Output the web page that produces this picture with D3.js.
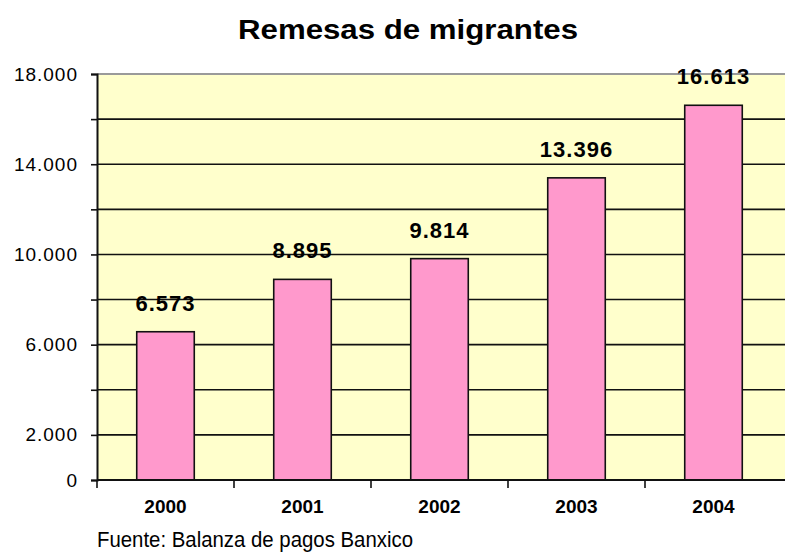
<!DOCTYPE html>
<html>
<head>
<meta charset="utf-8">
<script src="https://cdn.jsdelivr.net/npm/d3@7"></script>
<style>
  body { margin: 0; background: #fff; }
  text { font-family: "Liberation Sans", Arial, sans-serif; fill: #000; }
</style>
</head>
<body>
<svg id="chart" width="785" height="553"></svg>
<script>
// data
var years = ["2000", "2001", "2002", "2003", "2004"];
var remesas = [6573, 8895, 9814, 13396, 16613];
var yLabels = [0, 2000, 6000, 10000, 14000, 18000];
var yGrid = [2000, 4000, 6000, 8000, 10000, 12000, 14000, 16000];

var margin = {top: 74, left: 97, bottom: 480, right: 782};
var svg = d3.select("#chart");

var x = d3.scaleBand()
    .domain(years)
    .range([margin.left, margin.right]);

var y = d3.scaleLinear()
    .domain([0, 18000])
    .range([margin.bottom, margin.top]);

var fmt = function (v) {
    return d3.format(",")(v).replace(/,/g, ".");
};

// plot background
svg.append("rect")
    .attr("x", margin.left)
    .attr("y", y(18000))
    .attr("width", 785 - margin.left)
    .attr("height", y(0) - y(18000))
    .attr("fill", "#ffffcc");

// top border
svg.append("line")
    .attr("x1", margin.left).attr("x2", 785)
    .attr("y1", y(18000)).attr("y2", y(18000))
    .attr("stroke", "#9a9a9a").attr("stroke-width", 2);

// grid
svg.selectAll("line.grid")
    .data(yGrid)
    .enter().append("line")
    .attr("class", "grid")
    .attr("x1", margin.left).attr("x2", 785)
    .attr("y1", function (d) { return y(d); })
    .attr("y2", function (d) { return y(d); })
    .attr("stroke", "#111").attr("stroke-width", 1.6);

// bars
var barW = x.bandwidth() * 0.42;
svg.selectAll("rect.bar")
    .data(remesas)
    .enter().append("rect")
    .attr("class", "bar")
    .attr("x", function (d, i) { return x(years[i]) + (x.bandwidth() - barW) / 2; })
    .attr("y", function (d) { return y(d); })
    .attr("width", barW)
    .attr("height", function (d) { return y(0) - y(d); })
    .attr("fill", "#ff99cc")
    .attr("stroke", "#111")
    .attr("stroke-width", 1.6);

// value labels
svg.selectAll("text.val")
    .data(remesas)
    .enter().append("text")
    .attr("class", "val")
    .attr("x", function (d, i) { return x(years[i]) + x.bandwidth() / 2; })
    .attr("y", function (d) { return y(d) - 21; })
    .attr("text-anchor", "middle")
    .style("font-size", "22px")
    .style("font-weight", "bold")
    .style("letter-spacing", "1px")
    .text(fmt);

// y axis
var yAxis = d3.axisLeft(y)
    .tickValues(d3.range(0, 18001, 2000))
    .tickSize(6)
    .tickFormat(function (d) { return yLabels.indexOf(d) >= 0 ? fmt(d) : ""; });

var gy = svg.append("g")
    .attr("transform", "translate(" + margin.left + ",0)")
    .call(yAxis);
gy.select(".domain").attr("stroke", "#111").attr("stroke-width", 2);
gy.selectAll(".tick line").attr("stroke", "#111").attr("stroke-width", 1.6);
gy.selectAll(".tick text")
    .attr("x", -19)
    .style("font-size", "19px")
    .style("letter-spacing", "1px")
    .style("font-family", "Liberation Sans, Arial, sans-serif")
    .attr("fill", "#000");

// x axis
svg.append("line")
    .attr("x1", margin.left).attr("x2", 785)
    .attr("y1", y(0)).attr("y2", y(0))
    .attr("stroke", "#111").attr("stroke-width", 2);

svg.selectAll("line.xtick")
    .data(years)
    .enter().append("line")
    .attr("class", "xtick")
    .attr("x1", function (d) { return x(d); })
    .attr("x2", function (d) { return x(d); })
    .attr("y1", y(0)).attr("y2", y(0) + 8)
    .attr("stroke", "#111").attr("stroke-width", 1.6);

svg.selectAll("text.xlab")
    .data(years)
    .enter().append("text")
    .attr("class", "xlab")
    .attr("x", function (d) { return x(d) + x.bandwidth() / 2; })
    .attr("y", 513)
    .attr("text-anchor", "middle")
    .style("font-size", "19px")
    .style("font-weight", "bold")
    .text(function (d) { return d; });

// title
svg.append("text")
    .attr("x", 408)
    .attr("y", 39)
    .attr("text-anchor", "middle")
    .attr("textLength", 340)
    .attr("lengthAdjust", "spacingAndGlyphs")
    .style("font-size", "27px")
    .style("font-weight", "bold")
    .text("Remesas de migrantes");

// source
svg.append("text")
    .attr("x", 97)
    .attr("y", 547)
    .attr("textLength", 316)
    .attr("lengthAdjust", "spacingAndGlyphs")
    .style("font-size", "22px")
    .text("Fuente: Balanza de pagos Banxico");
</script>
</body>
</html>
